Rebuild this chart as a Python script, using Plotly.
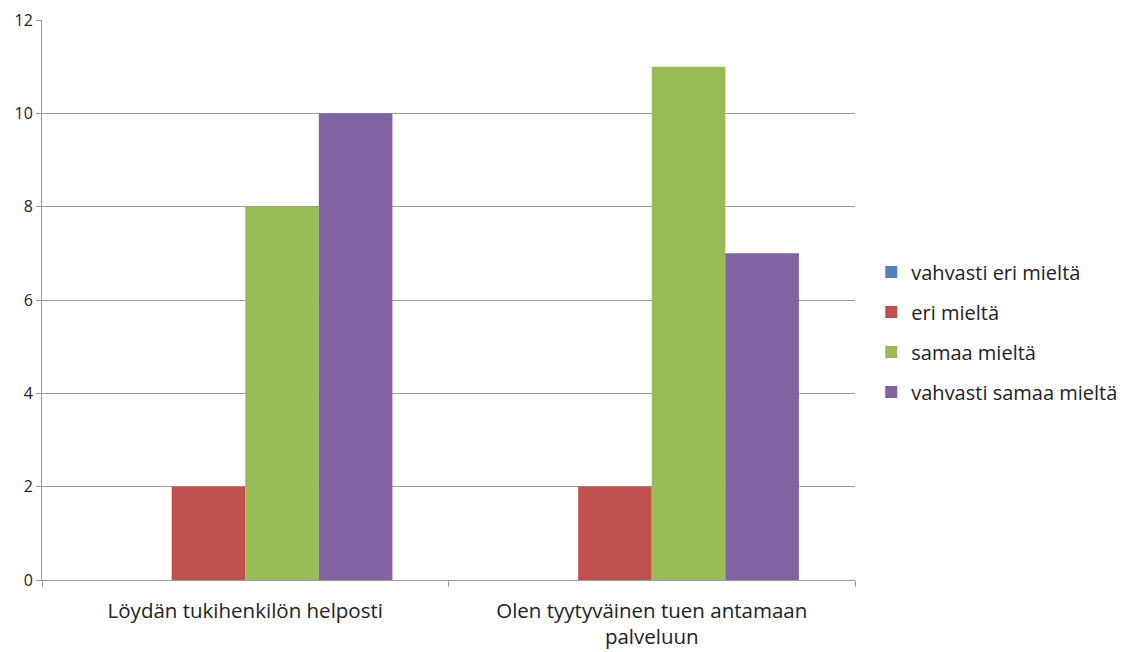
import plotly.graph_objects as go

categories = ["Löydän tukihenkilön helposti", "Olen tyytyväinen tuen antamaan<br>palveluun"]
series_names = ["vahvasti eri mieltä", "eri mieltä", "samaa mieltä", "vahvasti samaa mieltä"]
vahvasti_eri = [0, 0]
eri = [2, 2]
samaa = [8, 11]
vahvasti_samaa = [10, 7]
colors = ["#4F81BD", "#C0504D", "#9BBB59", "#8064A2"]
y_ticks = [0, 2, 4, 6, 8, 10, 12]

fig = go.Figure()
for i, (name, vals) in enumerate(zip(series_names, [vahvasti_eri, eri, samaa, vahvasti_samaa])):
    fig.add_trace(go.Bar(
        x=categories, y=vals, name=name, marker_color=colors[i],
        marker_line_width=0, legendgroup=f"g{i}",
    ))

font_family = "Open Sans, Noto Sans, sans-serif"
fig.update_layout(
    width=1123, height=652,
    margin=dict(l=42, r=268, t=20, b=72, autoexpand=False),
    paper_bgcolor="white", plot_bgcolor="white",
    barmode="group", bargap=0.276, bargroupgap=0,
    font=dict(family=font_family, color="#222222"),
    showlegend=True,
    legend=dict(
        x=1.02, xanchor="left", y=0.443, yanchor="middle",
        font=dict(size=20, color="#222222"),
        tracegroupgap=11, itemwidth=30,
        bgcolor="rgba(0,0,0,0)",
    ),
)
fig.update_xaxes(
    automargin=False,
    showline=True, linecolor="#9A9A9A", linewidth=1,
    ticks="outside", tickson="boundaries", ticklen=6, tickcolor="#9A9A9A",
    tickfont=dict(size=20.5, color="#222222"),
    ticklabelstandoff=12,
    showgrid=False,
)
fig.update_yaxes(
    automargin=False,
    range=[0, 12], tickvals=y_ticks,
    showline=True, linecolor="#9A9A9A", linewidth=1,
    ticks="outside", ticklen=5, tickcolor="#9A9A9A",
    tickfont=dict(size=16, color="#222222"),
    showgrid=True, gridcolor="#9A9A9A", gridwidth=1,
    zeroline=False,
)

fig.write_html("out.html")
